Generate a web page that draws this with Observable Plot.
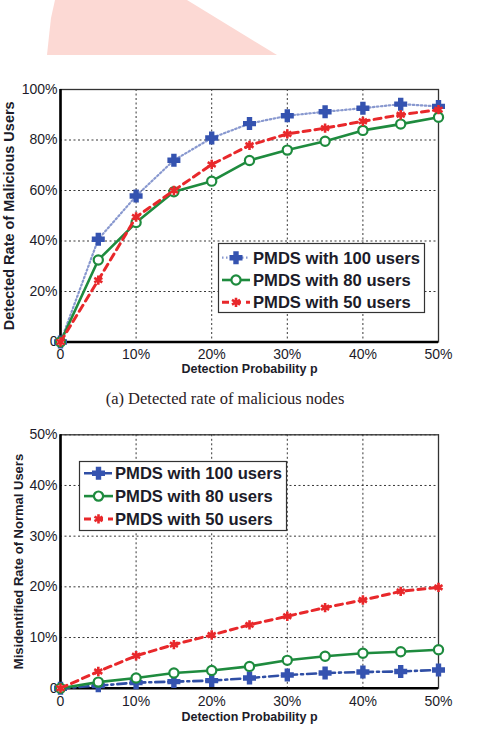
<!DOCTYPE html>
<html>
<head>
<meta charset="utf-8">
<script src="https://cdn.jsdelivr.net/npm/d3@7"></script>
<script src="https://cdn.jsdelivr.net/npm/@observablehq/plot@0.6"></script>
<style>
  body { margin: 0; background: #fff; width: 491px; height: 731px; overflow: hidden; position: relative;
         font-family: "Liberation Sans", Arial, sans-serif; }
  #ribbon { position: absolute; left: 0; top: 0; width: 491px; height: 56px; background: #fcd9d4;
            clip-path: polygon(47px 55px, 49px 36px, 51px 18px, 55px 0, 187px 0, 277px 55px); }
  #chartA { position: absolute; left: 0; top: 56px; }
  #chartB { position: absolute; left: 0; top: 415px; }
  #caption { position: absolute; left: 0; width: 450px; top: 389px; text-align: center;
             font: 16.5px "Liberation Serif", "Times New Roman", serif; color: #2a2024; }
  .legend { position: absolute; left: 0; top: 0; }
</style>
</head>
<body>
<div id="ribbon"></div>
<div id="chartA"></div>
<div id="caption">(a) Detected rate of malicious nodes</div>
<div id="chartB"></div>
<script>
// Detection probability p (%)
const probability = [0, 5, 10, 15, 20, 25, 30, 35, 40, 45, 50];
const seriesNames = ["PMDS with 100 users", "PMDS with 80 users", "PMDS with 50 users"];

// (a) detected rate of malicious users (%)
const detected100 = [0, 40.7, 57.8, 72.0, 80.8, 86.5, 89.6, 91.2, 92.6, 94.2, 93.3];
const detected80  = [0, 32.5, 47.3, 59.5, 63.7, 71.9, 76.0, 79.5, 83.8, 86.3, 89.0];
const detected50  = [0, 24.5, 49.5, 60.0, 70.3, 77.9, 82.4, 84.7, 87.4, 90.0, 92.0];

// (b) misidentified rate of normal users (%)
const misid100 = [0, 0.5, 1.1, 1.3, 1.5, 2.0, 2.6, 3.0, 3.2, 3.3, 3.6];
const misid80  = [0, 1.2, 2.0, 3.0, 3.5, 4.3, 5.5, 6.3, 6.9, 7.2, 7.6];
const misid50  = [0, 3.3, 6.4, 8.6, 10.5, 12.5, 14.2, 15.9, 17.4, 19.1, 19.9];

const xTicks = [0, 10, 20, 30, 40, 50];
const yTicksA = [0, 20, 40, 60, 80, 100];
const yTicksB = [0, 10, 20, 30, 40, 50];

const xTitle = "Detection Probability p";
const yTitleA = "Detected Rate of Malicious Users";
const yTitleB = "Misidentified Rate of Normal Users";

const pct = d => d === 0 ? "0" : d + "%";

const BLUE = "#3553b0", GREEN = "#1e8b3e", RED = "#e8282b", INK = "#1c1c2a";

// line + marker style for each series; the 100-user line differs between panels
function seriesStyles(blueLine) {
  return [
    {line: blueLine, dot: {symbol: "cross", r: 4.8, fill: BLUE, stroke: BLUE, strokeWidth: 1.6}},
    {line: {stroke: GREEN, strokeWidth: 2.6}, dot: {symbol: "circle", r: 4.6, fill: "#fff", stroke: GREEN, strokeWidth: 2.2}},
    {line: {stroke: RED, strokeWidth: 3, strokeDasharray: "7,5"}, dot: {symbol: "asterisk", r: 4.4, fill: "none", stroke: RED, strokeWidth: 2.6}}
  ];
}

function panel({series, yDomain, yTicks, yTitle, styles, height, marginTop, marginBottom, yTitleDx, yTitleSize, xTickPad, xTitleDy}) {
  const marks = [
    Plot.gridX(xTicks, {stroke: "#222", strokeOpacity: 0.9, strokeWidth: 1, strokeDasharray: "2,2.5"}),
    Plot.gridY(yTicks, {stroke: "#222", strokeOpacity: 0.9, strokeWidth: 1, strokeDasharray: "2,2.5"}),
    Plot.frame({stroke: "#333", strokeWidth: 1.3}),
    Plot.ruleX([0], {stroke: "#000", strokeWidth: 2.6}),
    Plot.ruleY([yDomain[0]], {stroke: "#000", strokeWidth: 2.4}),
    Plot.axisX(xTicks, {tickSize: 0, tickPadding: xTickPad, tickFormat: pct, fontSize: 14, fill: INK, label: null}),
    Plot.axisY(yTicks, {tickSize: 0, tickPadding: 3, tickFormat: pct, fontSize: 14, fill: INK, label: null}),
    Plot.text([xTitle], {frameAnchor: "bottom", lineAnchor: "middle", textAnchor: "middle", dy: xTitleDy,
                         fontSize: 12.5, fontWeight: "bold", fill: INK}),
    Plot.text([yTitle], {frameAnchor: "left", lineAnchor: "middle", textAnchor: "middle", rotate: -90, dx: yTitleDx,
                         fontSize: yTitleSize, fontWeight: "bold", fill: INK})
  ];
  series.forEach((values, i) => {
    const rows = probability.map((p, j) => ({p, v: values[j]}));
    marks.push(Plot.line(rows, {x: "p", y: "v", ...styles[i].line}));
    marks.push(Plot.dot(rows, {x: "p", y: "v", ...styles[i].dot}));
  });
  return Plot.plot({
    width: 491, height,
    marginLeft: 60, marginRight: 53, marginTop, marginBottom,
    style: {fontFamily: "Liberation Sans, Arial, sans-serif", background: "transparent", overflow: "visible"},
    x: {domain: [0, 50], label: null},
    y: {domain: yDomain, label: null},
    marks
  });
}

// legend box drawn with d3 beside each panel
function legend(host, {left, top, width, height, rowTop, rowStep, lineX1, lineX2, textX, styles}) {
  const svg = d3.select(host).append("svg")
    .attr("class", "legend")
    .attr("width", 491).attr("height", 316)
    .style("overflow", "visible");
  const g = svg.append("g");
  g.append("rect").attr("x", left + 0.5).attr("y", top + 0.5).attr("width", width).attr("height", height)
    .attr("fill", "#fff").attr("stroke", "#333").attr("stroke-width", 1.2);
  seriesNames.forEach((name, i) => {
    const y = rowTop + i * rowStep;
    const s = styles[i];
    g.append("line").attr("x1", lineX1).attr("x2", lineX2).attr("y1", y).attr("y2", y)
      .attr("stroke", s.line.stroke).attr("stroke-width", s.line.strokeWidth)
      .attr("stroke-dasharray", s.line.strokeDasharray || null);
    const sym = {cross: d3.symbolCross, circle: d3.symbolCircle, asterisk: d3.symbolAsterisk}[s.dot.symbol];
    g.append("path").attr("d", d3.symbol(sym, s.dot.r * s.dot.r * Math.PI)())
      .attr("transform", `translate(${(lineX1 + lineX2) / 2},${y})`)
      .attr("fill", s.dot.fill).attr("stroke", s.dot.stroke).attr("stroke-width", s.dot.strokeWidth);
    g.append("text").attr("x", textX).attr("y", y).attr("dy", "0.35em")
      .attr("font-family", "Liberation Sans, Arial, sans-serif").attr("font-size", 16.6)
      .attr("font-weight", "bold").attr("fill", INK).text(name);
  });
}

const stylesA = seriesStyles({stroke: "#8898cf", strokeWidth: 2.2, strokeDasharray: "1.5,2.5"});
const stylesB = seriesStyles({stroke: "#2f4ea5", strokeWidth: 2.6, strokeDasharray: "9,4,2,4"});

const hostA = document.getElementById("chartA");
hostA.append(panel({
  series: [detected100, detected80, detected50],
  yDomain: [0, 100], yTicks: yTicksA, yTitle: yTitleA, styles: stylesA,
  height: 320, marginTop: 33, marginBottom: 34.5,
  yTitleDx: -51.3, yTitleSize: 14.5, xTickPad: 7.5, xTitleDy: 26.5
}));
legend(hostA, {left: 218, top: 187, width: 206, height: 69, rowTop: 201.7, rowStep: 22.3,
               lineX1: 222, lineX2: 250, textX: 253, styles: stylesA});

const hostB = document.getElementById("chartB");
hostB.append(panel({
  series: [misid100, misid80, misid50],
  yDomain: [0, 50], yTicks: yTicksB, yTitle: yTitleB, styles: stylesB,
  height: 316, marginTop: 19.3, marginBottom: 43.3,
  yTitleDx: -42, yTitleSize: 13, xTickPad: 7.5, xTitleDy: 28.3
}));
legend(hostB, {left: 79, top: 46, width: 207, height: 69, rowTop: 58.3, rowStep: 22.8,
               lineX1: 84, lineX2: 113, textX: 115, styles: stylesB});
</script>
</body>
</html>
